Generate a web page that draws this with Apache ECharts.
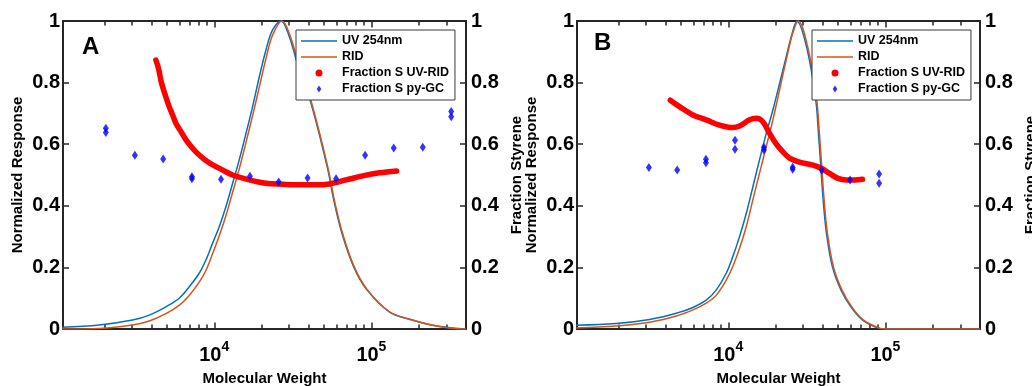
<!DOCTYPE html>
<html><head><meta charset="utf-8">
<script src="https://cdn.jsdelivr.net/npm/echarts@6/dist/echarts.min.js"></script>
<style>html,body{margin:0;padding:0;background:#fff}#c{width:1032px;height:386px}</style>
</head><body><div id="c"></div>
<script>
// ---- axis ranges / ticks ----
const X_MIN = 1090, X_MAX = 400000;
const X_MINOR = [2000,3000,4000,5000,6000,7000,8000,9000,20000,30000,40000,50000,60000,70000,80000,90000,200000,300000];
const Y_MIN = 0, Y_MAX = 1, Y_STEP = 0.2;

// ---- series names ----
const NAMES = ['UV 254nm', 'RID', 'Fraction S UV-RID', 'Fraction S py-GC'];
const PANEL_LABELS = ['A', 'B'];

// ---- Panel A data ----
const A_UV_MW = [1000,1850,3020,3855,4920,5980,6930,8020,8850,9750,10760,11860,13090,14420,15920,17540,19360,21330,23500,26600,30000,34300,40900,52300,57600,65000,77400,93700,129800,181800,244800,330000,400000];
const A_UV    = [0.005,0.013,0.029,0.045,0.072,0.100,0.137,0.181,0.224,0.278,0.332,0.397,0.473,0.549,0.635,0.722,0.819,0.906,0.971,1.000,0.950,0.850,0.740,0.527,0.419,0.310,0.200,0.127,0.056,0.029,0.012,0.003,0.000];
const A_RID_MW = [1000,1850,3020,3855,4920,5980,6930,8020,8850,9750,10760,11860,13090,14420,15920,17540,19360,21330,23500,27000,30500,34800,41300,52700,58100,65600,78000,94400,130400,182400,245000,330000,400000];
const A_RID    = [0.000,0.002,0.013,0.026,0.050,0.077,0.109,0.152,0.190,0.244,0.303,0.368,0.444,0.520,0.606,0.693,0.786,0.878,0.954,1.000,0.950,0.850,0.740,0.527,0.419,0.310,0.200,0.127,0.056,0.029,0.012,0.002,0.000];
const A_FRAC_MW = [4252,4355,4467,4571,4688,4920,5164,5433,5702,6138,6607,7278,8017,9078,10260,11590,13090,16710,21330,27230,34750,44460,53950,69020,88100,112500,144900];
const A_FRAC    = [0.873,0.857,0.835,0.808,0.787,0.754,0.722,0.695,0.668,0.641,0.614,0.587,0.565,0.543,0.527,0.513,0.500,0.484,0.473,0.470,0.468,0.468,0.471,0.484,0.497,0.507,0.513];
const A_GC_MW = [2042,2042,3126,4732,7211,7211,11040,16870,25700,39260,59570,91200,138700,212300,322100,322100];
const A_GC    = [0.652,0.638,0.564,0.552,0.494,0.488,0.486,0.496,0.477,0.490,0.488,0.564,0.588,0.590,0.706,0.689];

// ---- Panel B data ----
const B_UV_MW = [1000,1936,3155,4667,5957,7244,8395,9705,10690,11800,13030,14350,15810,17460,19230,21230,23390,25180,27350,31840,36060,37500,38820,40180,42170,46030,52120,60260,71610,91620,100000,400000];
const B_UV    = [0.012,0.018,0.031,0.051,0.070,0.094,0.127,0.181,0.235,0.300,0.376,0.462,0.549,0.635,0.711,0.798,0.884,0.949,1.000,0.906,0.743,0.635,0.527,0.419,0.311,0.202,0.127,0.072,0.029,0.002,0.000,0.000];
const B_RID_MW = [1000,1936,3155,4667,5957,7244,8395,9705,10690,11800,13030,14350,15810,17460,19230,21230,23390,25700,27900,32360,36560,38020,39360,40740,42760,46670,52840,61090,72610,92900,100000,400000];
const B_RID    = [0.003,0.010,0.022,0.042,0.062,0.084,0.110,0.159,0.203,0.262,0.333,0.420,0.506,0.593,0.679,0.777,0.874,0.960,1.000,0.906,0.743,0.635,0.527,0.419,0.311,0.202,0.127,0.072,0.029,0.002,0.000,0.000];
const B_FRAC_MW = [4276,4898,5957,7244,8810,10690,11800,13680,15070,16600,18320,20230,22280,24550,28440,34590,39080,44160,49890,56490,63830,71450];
const B_FRAC    = [0.743,0.722,0.695,0.679,0.662,0.654,0.659,0.679,0.684,0.673,0.635,0.600,0.575,0.555,0.542,0.532,0.522,0.505,0.489,0.484,0.484,0.486];
const B_GC_MW = [3126,4732,7211,7211,11040,11040,16870,16870,25700,25700,39260,59570,91200,91200];
const B_GC    = [0.524,0.516,0.551,0.540,0.613,0.584,0.590,0.581,0.525,0.519,0.516,0.484,0.503,0.473];

// ---- styling ----
const FONT = 'Liberation Sans, Arial, Helvetica, sans-serif';
const AX = '#262626';
const C_UV = '#0072BD', C_RID = '#D95319', C_FRAC = '#FF0000', C_GC = '#0000FF';
const LINE_ICON = 'path://M0,0H36V1.5H0Z';
const DIAMOND_ICON = 'path://M0,-3L2,0L0,3L-2,0Z';

const zip = (xs, ys) => xs.map((x, i) => [x, ys[i]]);

const panels = [
  {uv:[A_UV_MW,A_UV], rid:[A_RID_MW,A_RID], frac:[A_FRAC_MW,A_FRAC], gc:[A_GC_MW,A_GC], left:63, legendLeft:296, label:{left:82, top:35}},
  {uv:[B_UV_MW,B_UV], rid:[B_RID_MW,B_RID], frac:[B_FRAC_MW,B_FRAC], gc:[B_GC_MW,B_GC], left:577, legendLeft:812, label:{left:594, top:31}}
];

const grid = [], xAxis = [], yAxis = [], series = [], legend = [], title = [];
const tickLine = {color: AX, width: 1.5};
const axisLineStyle = {show: true, onZero: false, lineStyle: {color: AX, width: 2}};

function xLabelFmt(v) {
  const e = Math.log10(v);
  if (Math.abs(e - Math.round(e)) > 1e-6) return '';
  return '{b|10}{sup|' + Math.round(e) + '}';
}

panels.forEach((p, g) => {
  grid.push({left: p.left, top: 21, width: 403, height: 308, outerBoundsMode: 'none', containLabel: false});
  const xi = xAxis.length;
  // main bottom log axis
  xAxis.push({
    type: 'log', logBase: 10, gridIndex: g, min: X_MIN, max: X_MAX, position: 'bottom',
    axisLine: axisLineStyle,
    axisTick: {show: true, inside: true, length: 6.5, lineStyle: tickLine},
    minorTick: {show: false}, splitLine: {show: false},
    axisLabel: {show: true, margin: 11, formatter: xLabelFmt, color: '#000',
      rich: {
        b: {fontSize: 20, fontWeight: 'bold', fontFamily: FONT, color: '#000', lineHeight: 30},
        sup: {fontSize: 14, fontWeight: 'bold', fontFamily: FONT, color: '#000', lineHeight: 14, verticalAlign: 'top'}
      }},
    name: 'Molecular Weight', nameLocation: 'middle', nameGap: 42,
    nameTextStyle: {fontSize: 15, fontWeight: 'bold', fontFamily: FONT, color: '#000'}
  });
  // top log axis (frame + major ticks)
  xAxis.push({
    type: 'log', logBase: 10, gridIndex: g, min: X_MIN, max: X_MAX, position: 'top',
    axisLine: axisLineStyle,
    axisTick: {show: true, inside: true, length: 6.5, lineStyle: tickLine},
    axisLabel: {show: false}, splitLine: {show: false}, minorTick: {show: false}
  });
  // minor ticks bottom / top (log10 space helper axes)
  ['bottom', 'top'].forEach(pos => {
    xAxis.push({
      type: 'value', gridIndex: g, min: Math.log10(X_MIN), max: Math.log10(X_MAX), position: pos,
      axisLine: {show: false, onZero: false},
      axisTick: {show: true, inside: true, length: 4.5, lineStyle: tickLine, customValues: X_MINOR.map(v => Math.log10(v))},
      axisLabel: {show: false}, splitLine: {show: false}
    });
  });
  const yi = yAxis.length;
  const yLabel = {fontSize: 20, fontWeight: 'bold', fontFamily: FONT, color: '#000'};
  yAxis.push({
    type: 'value', gridIndex: g, position: 'left', min: Y_MIN, max: Y_MAX, interval: Y_STEP,
    axisLine: axisLineStyle,
    axisTick: {show: true, inside: true, length: 6, lineStyle: tickLine},
    axisLabel: Object.assign({margin: 3}, yLabel), splitLine: {show: false},
    name: 'Normalized Response', nameLocation: 'middle', nameGap: 38,
    nameTextStyle: {fontSize: 15, fontWeight: 'bold', fontFamily: FONT, color: '#000'}
  });
  yAxis.push({
    type: 'value', gridIndex: g, position: 'right', min: Y_MIN, max: Y_MAX, interval: Y_STEP,
    axisLine: axisLineStyle,
    axisTick: {show: true, inside: true, length: 6, lineStyle: tickLine},
    axisLabel: Object.assign({margin: 5}, yLabel), splitLine: {show: false},
    name: 'Fraction Styrene', nameLocation: 'middle', nameGap: 43,
    nameTextStyle: {fontSize: 15, fontWeight: 'bold', fontFamily: FONT, color: '#000'}
  });
  series.push({name: NAMES[0], type: 'line', xAxisIndex: xi, yAxisIndex: yi, data: zip(...p.uv),
    symbol: 'none', smooth: 0.35, lineStyle: {color: C_UV, width: 1.5}, itemStyle: {color: C_UV}, z: 2});
  series.push({name: NAMES[1], type: 'line', xAxisIndex: xi, yAxisIndex: yi, data: zip(...p.rid),
    symbol: 'none', smooth: 0.35, lineStyle: {color: C_RID, width: 1.5}, itemStyle: {color: C_RID}, z: 3});
  series.push({name: NAMES[2], type: 'line', xAxisIndex: xi, yAxisIndex: yi + 1, data: zip(...p.frac),
    symbol: 'none', smooth: 0.35, lineStyle: {color: C_FRAC, width: 5.5, cap: 'round', join: 'round'}, itemStyle: {color: C_FRAC}, z: 4});
  series.push({name: NAMES[3], type: 'scatter', xAxisIndex: xi, yAxisIndex: yi + 1, data: zip(...p.gc),
    symbol: 'diamond', symbolSize: [6, 9], itemStyle: {color: C_GC}, z: 5});
  legend.push({
    orient: 'vertical', left: p.legendLeft, top: 30,
    itemWidth: 36, itemHeight: 7, itemGap: 0, padding: [3, 6, 3, 5],
    backgroundColor: '#fff', borderColor: '#3a3a3a', borderWidth: 1, borderRadius: 0,
    selectedMode: false,
    textStyle: {fontSize: 12.5, fontWeight: 'bold', fontFamily: FONT, color: '#000', lineHeight: 16},
    data: [{name: NAMES[0], icon: LINE_ICON}, {name: NAMES[1], icon: LINE_ICON},
           {name: NAMES[2], icon: 'circle'}, {name: NAMES[3], icon: DIAMOND_ICON}]
  });
  title.push({text: PANEL_LABELS[g], left: p.label.left, top: p.label.top, padding: 0,
    textStyle: {fontSize: 24, fontWeight: 'bold', fontFamily: FONT, color: '#000'}});
});

const chart = echarts.init(document.getElementById('c'), null, {renderer: 'canvas'});
chart.setOption({animation: false, backgroundColor: '#fff', title, grid, xAxis, yAxis, legend, series, tooltip: {show: false}});
</script>
</body></html>
